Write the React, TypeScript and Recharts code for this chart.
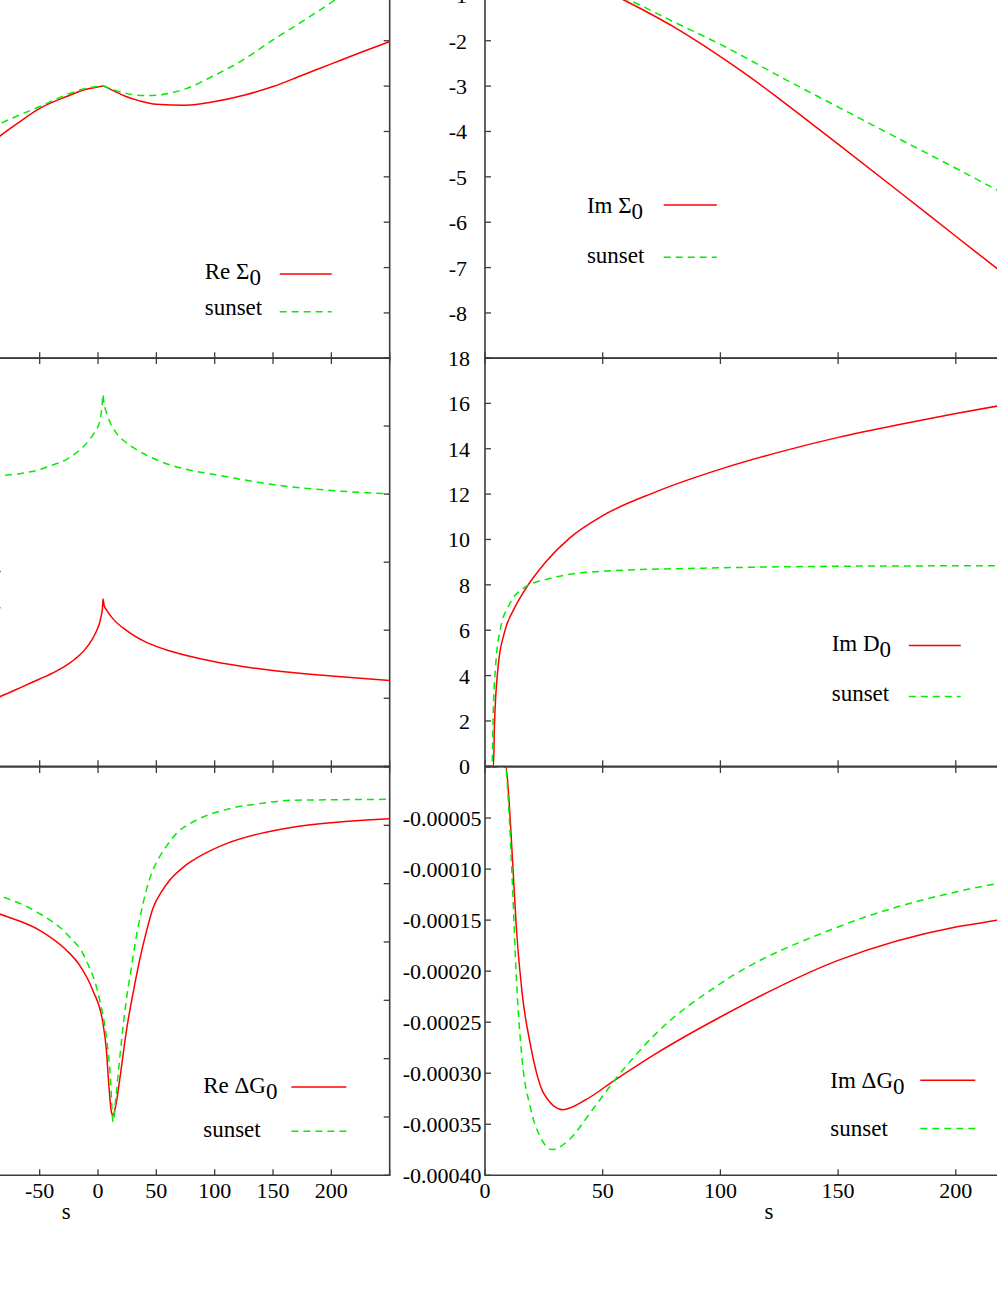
import React from 'react';
import { LineChart, Line, XAxis, YAxis, ReferenceArea, Legend } from 'recharts';

const FONT = '"Liberation Serif", "Times New Roman", Times, serif';
const RED = '#ff0000';
const GREEN = '#00ee00';
const AXIS = '#3c3c3c';
const DASH = '7 5';

// ---------- tick values ----------
const leftXTicks = [-300, -250, -200, -150, -100, -50, 0, 50, 100, 150, 200, 250];
const leftXLabels = [-50, 0, 50, 100, 150, 200];
const rightXTicks = [0, 50, 100, 150, 200, 250];
const rightXLabels = [0, 50, 100, 150, 200];
const sigmaYTicks = [-9, -8, -7, -6, -5, -4, -3, -2, -1, 0];
const sigmaYLabels = [-8, -7, -6, -5, -4, -3, -2, -1];
const reDYTicks = [0, 3, 6, 9, 12, 15, 18];
const imDYTicks = [0, 2, 4, 6, 8, 10, 12, 14, 16, 18];
const reGYTicks = [0, -0.00005, -0.0001, -0.00015, -0.0002, -0.00025, -0.0003, -0.00035];
const imGYTicks = [0, -0.00005, -0.0001, -0.00015, -0.0002, -0.00025, -0.0003, -0.00035, -0.0004];
const imGYLabels = [-0.00005, -0.0001, -0.00015, -0.0002, -0.00025, -0.0003, -0.00035, -0.0004];

// ---------- Re Sigma_0 ----------
const reSigmaS = [-110, -85, -70, -50, -27, -10, 0, 4, 10, 17, 24, 35, 50, 75, 100, 125, 150, 175, 200, 225, 250];
const reSigmaV = [-4.65, -4.12, -3.84, -3.49, -3.23, -3.07, -3.02, -3.0, -3.06, -3.15, -3.23, -3.32, -3.4, -3.42, -3.34, -3.2, -3.01, -2.76, -2.51, -2.26, -2.02];
const reSigmaSunS = [-110, -85, -50, -27, -10, 0, 4, 10, 24, 41, 50, 76, 100, 122, 150, 179, 203, 225, 250];
const reSigmaSunV = [-4.18, -3.84, -3.45, -3.19, -3.05, -3.01, -3.0, -3.05, -3.16, -3.21, -3.2, -3.05, -2.76, -2.46, -1.98, -1.51, -1.1, -0.65, -0.1];

// ---------- Im Sigma_0 ----------
const imSigmaS = [0, 20, 40, 60, 70, 80, 90, 100, 112, 125, 150, 175, 200, 218, 250];
const imSigmaV = [-0.05, -0.3, -0.65, -1.13, -1.4, -1.69, -2.01, -2.35, -2.78, -3.28, -4.28, -5.29, -6.31, -7.04, -8.35];
const imSigmaSunS = [0, 20, 40, 60, 80, 100, 127.5, 150, 175, 200, 217.5, 250];
const imSigmaSunV = [-0.1, -0.42, -0.75, -1.08, -1.58, -2.08, -2.85, -3.46, -4.14, -4.81, -5.29, -6.17];

// ---------- Re D_0 ----------
const reDS = [-110, -85, -65, -50, -40, -33, -25, -20, -12, -5, -1, 1.5, 3, 3.8, 4.3, 5.2, 7.2, 12.9, 24.3, 41.5, 64, 96, 150, 200, 250];
const reDV = [2.6, 3.05, 3.5, 3.85, 4.08, 4.27, 4.53, 4.72, 5.1, 5.6, 6.0, 6.35, 6.7, 6.95, 7.38, 7.1, 6.9, 6.5, 5.99, 5.46, 5.05, 4.65, 4.22, 3.98, 3.78];
const reDSunS = [-110, -85, -65, -50, -38, -27, -20, -12, -7, -3, 1.5, 3.5, 4.3, 4.9, 6, 7.5, 10, 15.6, 24.3, 33, 53, 84, 100, 150, 200, 250];
const reDSunV = [12.55, 12.79, 12.92, 13.08, 13.3, 13.52, 13.76, 14.12, 14.42, 14.72, 15.21, 15.9, 16.4, 16.05, 15.8, 15.55, 15.2, 14.7, 14.26, 13.96, 13.45, 13.0, 12.86, 12.42, 12.16, 12.01];

// ---------- Im D_0 ----------
const imDS = [0, 3.6, 4.0, 5.6, 8.2, 12.4, 17.4, 25.7, 35.8, 50, 72.6, 100, 125, 150, 175, 200, 217.6, 250];
const imDV = [0, 0, 1.76, 4.41, 5.88, 6.95, 7.85, 9.0, 10.05, 11.05, 12.1, 13.1, 13.85, 14.5, 15.05, 15.55, 15.88, 16.45];
const imDSunS = [0, 3.0, 3.4, 4.5, 6.5, 10.7, 16.5, 25.7, 50, 100, 150, 200, 250];
const imDSunV = [0, 0, 2.0, 4.41, 6.03, 7.2, 7.87, 8.23, 8.6, 8.75, 8.82, 8.84, 8.86];

// ---------- Re Delta G_0 ----------
const reGS = [-110, -85, -50, -27, -15.7, -4.5, 4.3, 7.2, 9.4, 11.5, 12.9, 15, 18.6, 24.2, 30, 36, 42, 47.1, 55, 61.4, 72.9, 81.4, 100, 110, 138.6, 164.3, 200, 250];
const reGV = [-11.6e-5, -12.57e-5, -14.0e-5, -15.71e-5, -17.0e-5, -19.14e-5, -22.0e-5, -24.29e-5, -27.43e-5, -29.57e-5, -29.86e-5, -29.14e-5, -26.8e-5, -22.7e-5, -19.4e-5, -16.4e-5, -13.9e-5, -12.1e-5, -10.6e-5, -9.71e-5, -8.6e-5, -8.0e-5, -7.0e-5, -6.57e-5, -5.71e-5, -5.2e-5, -4.77e-5, -4.43e-5];
const reGSunS = [-110, -85, -50, -27, -10.1, 1.5, 7.2, 10.6, 12.9, 15.6, 19.9, 24.2, 28, 32.7, 36, 41.3, 46, 52.7, 60, 67, 78, 89.9, 112.8, 138.6, 164.3, 200, 250];
const reGSunV = [-10.2e-5, -11.0e-5, -12.57e-5, -14.29e-5, -16.57e-5, -20.0e-5, -23.14e-5, -26.57e-5, -30.43e-5, -28.0e-5, -23.71e-5, -20.0e-5, -17.6e-5, -14.6e-5, -12.9e-5, -10.6e-5, -9.1e-5, -7.71e-5, -6.6e-5, -5.71e-5, -4.9e-5, -4.29e-5, -3.57e-5, -3.14e-5, -2.86e-5, -2.81e-5, -2.77e-5];

// ---------- Im Delta G_0 ----------
const imGS = [0, 8.9, 10.0, 11.7, 13.3, 15.8, 19.2, 25.0, 33.0, 42.4, 55, 72.6, 100, 150, 200, 217.6, 250];
const imGV = [0, 0, -2.61e-5, -9.14e-5, -15.67e-5, -22.2e-5, -27.1e-5, -32.0e-5, -33.57e-5, -32.65e-5, -30.7e-5, -28.08e-5, -24.49e-5, -18.94e-5, -15.67e-5, -15.02e-5, -13.9e-5];
const imGSunS = [0, 8.7, 9.9, 11.7, 13.3, 15.8, 19.2, 23.5, 28.5, 35.5, 45.5, 55, 72.6, 100, 150, 200, 217.6, 250];
const imGSunV = [0, 0, -3.26e-5, -11.76e-5, -20.57e-5, -28.73e-5, -33.3e-5, -36.24e-5, -37.48e-5, -36.57e-5, -33.63e-5, -30.7e-5, -26.12e-5, -21.22e-5, -15.67e-5, -12.24e-5, -11.42e-5, -10.1e-5];

// ---------- layout helpers ----------
const YW = 140;
const MT = 30;
const MR = 10;
const XH = 70;

type Series = { name: string; s: number[]; v: number[]; color: string; dash?: string };
type LegendSpec = { textX: number; lineX1: number; lineX2: number; rows: { base: number; lineY: number }[] };
type PanelProps = {
  plotLeft: number;
  plotTop: number;
  plotW: number;
  plotH: number;
  xDomain: [number, number];
  xTicks: number[];
  xLabels: number[];
  sLabelDx?: number;
  yDomain: [number, number];
  yTicks: number[];
  yLabels: number[];
  yFmt: (v: number) => string;
  yGap: number;
  series: Series[];
  legend: LegendSpec;
};

const toPoints = (s: number[], v: number[]) => s.map((x, i) => ({ s: x, v: v[i] }));

function Name({ name }: { name: string }) {
  const [main, sub] = name.split('_');
  return (
    <>
      {main}
      {sub !== undefined && <tspan dy={6}>{sub}</tspan>}
    </>
  );
}

function Panel(p: PanelProps) {
  const chartW = YW + p.plotW + MR;
  const chartH = MT + p.plotH + XH;
  const divLeft = p.plotLeft - YW;
  const divTop = p.plotTop - MT;

  const xTick = (tp: any) => {
    const { x, y, payload } = tp;
    const val = payload.value;
    const show = p.xLabels.includes(val);
    return (
      <g>
        <line x1={x} x2={x} y1={y} y2={y - 6} stroke={AXIS} strokeWidth={1.3} />
        <line x1={x} x2={x} y1={y - p.plotH} y2={y - p.plotH + 6} stroke={AXIS} strokeWidth={1.3} />
        {show && (
          <text x={x} y={y + 22.5} textAnchor="middle" fontFamily={FONT} fontSize={22} fill="#000">
            {String(val)}
          </text>
        )}
      </g>
    );
  };

  const yTick = (tp: any) => {
    const { x, y, payload } = tp;
    const val = payload.value;
    const show = p.yLabels.some((l) => Math.abs(l - val) < 1e-12);
    return (
      <g>
        <line x1={x} x2={x + 6} y1={y} y2={y} stroke={AXIS} strokeWidth={1.3} />
        <line x1={x + p.plotW} x2={x + p.plotW - 6} y1={y} y2={y} stroke={AXIS} strokeWidth={1.3} />
        {show && (
          <text x={x - p.yGap} y={y + 8} textAnchor="end" fontFamily={FONT} fontSize={22} fill="#000">
            {p.yFmt(val)}
          </text>
        )}
      </g>
    );
  };

  const legendContent = () => {
    const lg = p.legend;
    const textVisible = lg.textX >= 0;
    return (
      <svg width={chartW} height={chartH} style={{ position: 'absolute', left: 0, top: 0, overflow: 'visible', pointerEvents: 'none' }}>
        {p.series.map((sr, i) => {
          const row = lg.rows[i];
          return (
            <g key={sr.name}>
              {textVisible && (
                <text x={lg.textX - divLeft} y={row.base - divTop} fontFamily={FONT} fontSize={23} fill="#000">
                  <Name name={sr.name} />
                </text>
              )}
              <line
                x1={lg.lineX1 - divLeft}
                x2={lg.lineX2 - divLeft}
                y1={row.lineY - divTop}
                y2={row.lineY - divTop}
                stroke={sr.color}
                strokeWidth={1.5}
                strokeDasharray={sr.dash}
              />
            </g>
          );
        })}
      </svg>
    );
  };

  const sLabel =
    p.sLabelDx !== undefined
      ? {
          value: 's',
          content: (lp: any) => {
            const vb = lp.viewBox;
            return (
              <text x={vb.x + vb.width / 2 + (p.sLabelDx as number)} y={vb.y + 44} textAnchor="middle" fontFamily={FONT} fontSize={23} fill="#000">
                s
              </text>
            );
          },
        }
      : undefined;

  return (
    <div style={{ position: 'absolute', left: divLeft, top: divTop, width: chartW, height: chartH }}>
      <LineChart width={chartW} height={chartH} margin={{ top: MT, right: MR, bottom: 0, left: 0 }}>
        <XAxis
          type="number"
          dataKey="s"
          domain={p.xDomain}
          ticks={p.xTicks}
          interval={0}
          height={XH}
          tickSize={0}
          tickMargin={0}
          axisLine={false}
          tickLine={false}
          allowDataOverflow
          tick={xTick}
          label={sLabel as any}
        />
        <YAxis
          type="number"
          domain={p.yDomain}
          ticks={p.yTicks}
          interval={0}
          width={YW}
          tickSize={0}
          tickMargin={0}
          axisLine={false}
          tickLine={false}
          allowDataOverflow
          tick={yTick}
        />
        <ReferenceArea
          x1={p.xDomain[0]}
          x2={p.xDomain[1]}
          y1={p.yDomain[0]}
          y2={p.yDomain[1]}
          fill="none"
          fillOpacity={0}
          stroke={AXIS}
          strokeWidth={1.6}
        />
        {p.series.map((sr) => (
          <Line
            key={sr.name}
            name={sr.name}
            data={toPoints(sr.s, sr.v)}
            dataKey="v"
            type="monotone"
            stroke={sr.color}
            strokeWidth={1.5}
            strokeDasharray={sr.dash}
            dot={false}
            activeDot={false}
            isAnimationActive={false}
          />
        ))}
        <Legend
          layout="horizontal"
          verticalAlign="middle"
          align="center"
          wrapperStyle={{ position: 'absolute', left: 0, top: 0, width: chartW, height: chartH, margin: 0 }}
          content={legendContent}
        />
      </LineChart>
    </div>
  );
}

// column / row geometry (page pixels)
const L = { left: -251.7, w: 641.7, dom: [-300, 250] as [number, number] };
const R = { left: 484.7, w: 588.5, dom: [0, 250] as [number, number] };
const ROW_H = 408.3;
const ROWS = [-50, 358.3, 766.7];

const fmtInt = (v: number) => String(v);
const fmtG = (v: number) => (v === 0 ? '0' : v.toFixed(5));

export default function App() {
  return (
    <div style={{ position: 'absolute', left: 0, top: 0, width: 997, height: 1290, overflow: 'hidden', background: '#fff' }}>
      {/* Re Sigma_0 */}
      <Panel
        plotLeft={L.left}
        plotTop={ROWS[0]}
        plotW={L.w}
        plotH={ROW_H}
        xDomain={L.dom}
        xTicks={leftXTicks}
        xLabels={[]}
        yDomain={[-9, 0]}
        yTicks={sigmaYTicks}
        yLabels={[]}
        yFmt={fmtInt}
        yGap={18}
        series={[
          { name: 'Re Σ_0', s: reSigmaS, v: reSigmaV, color: RED },
          { name: 'sunset', s: reSigmaSunS, v: reSigmaSunV, color: GREEN, dash: DASH },
        ]}
        legend={{ textX: 205, lineX1: 280, lineX2: 332, rows: [{ base: 278.5, lineY: 274 }, { base: 315, lineY: 311.7 }] }}
      />
      {/* Im Sigma_0 */}
      <Panel
        plotLeft={R.left}
        plotTop={ROWS[0]}
        plotW={R.w}
        plotH={ROW_H}
        xDomain={R.dom}
        xTicks={rightXTicks}
        xLabels={[]}
        yDomain={[-9, 0]}
        yTicks={sigmaYTicks}
        yLabels={sigmaYLabels}
        yFmt={fmtInt}
        yGap={18}
        series={[
          { name: 'Im Σ_0', s: imSigmaS, v: imSigmaV, color: RED },
          { name: 'sunset', s: imSigmaSunS, v: imSigmaSunV, color: GREEN, dash: DASH },
        ]}
        legend={{ textX: 586.6, lineX1: 663.4, lineX2: 716.5, rows: [{ base: 213.3, lineY: 205 }, { base: 262.7, lineY: 257.3 }] }}
      />
      {/* Re D_0 */}
      <Panel
        plotLeft={L.left}
        plotTop={ROWS[1]}
        plotW={L.w}
        plotH={ROW_H}
        xDomain={L.dom}
        xTicks={leftXTicks}
        xLabels={[]}
        yDomain={[0, 18]}
        yTicks={reDYTicks}
        yLabels={[]}
        yFmt={fmtInt}
        yGap={15}
        series={[
          { name: 'Re D_0', s: reDS, v: reDV, color: RED },
          { name: 'sunset', s: reDSunS, v: reDSunV, color: GREEN, dash: DASH },
        ]}
        legend={{ textX: -135, lineX1: -51, lineX2: 1, rows: [{ base: 578, lineY: 571.7 }, { base: 613, lineY: 608 }] }}
      />
      {/* Im D_0 */}
      <Panel
        plotLeft={R.left}
        plotTop={ROWS[1]}
        plotW={R.w}
        plotH={ROW_H}
        xDomain={R.dom}
        xTicks={rightXTicks}
        xLabels={[]}
        yDomain={[0, 18]}
        yTicks={imDYTicks}
        yLabels={imDYTicks}
        yFmt={fmtInt}
        yGap={15}
        series={[
          { name: 'Im D_0', s: imDS, v: imDV, color: RED },
          { name: 'sunset', s: imDSunS, v: imDSunV, color: GREEN, dash: DASH },
        ]}
        legend={{ textX: 831.4, lineX1: 908.5, lineX2: 960.5, rows: [{ base: 651.7, lineY: 645.7 }, { base: 701.7, lineY: 696.7 }] }}
      />
      {/* Re Delta G_0 */}
      <Panel
        plotLeft={L.left}
        plotTop={ROWS[2]}
        plotW={L.w}
        plotH={ROW_H}
        xDomain={L.dom}
        xTicks={leftXTicks}
        xLabels={leftXLabels}
        sLabelDx={-2.5}
        yDomain={[-0.00035, 0]}
        yTicks={reGYTicks}
        yLabels={[]}
        yFmt={fmtG}
        yGap={4}
        series={[
          { name: 'Re ΔG_0', s: reGS, v: reGV, color: RED },
          { name: 'sunset', s: reGSunS, v: reGSunV, color: GREEN, dash: DASH },
        ]}
        legend={{ textX: 203.5, lineX1: 291.7, lineX2: 346.7, rows: [{ base: 1092.7, lineY: 1086.7 }, { base: 1136.7, lineY: 1131 }] }}
      />
      {/* Im Delta G_0 */}
      <Panel
        plotLeft={R.left}
        plotTop={ROWS[2]}
        plotW={R.w}
        plotH={ROW_H}
        xDomain={R.dom}
        xTicks={rightXTicks}
        xLabels={rightXLabels}
        sLabelDx={-10.3}
        yDomain={[-0.0004, 0]}
        yTicks={imGYTicks}
        yLabels={imGYLabels}
        yFmt={fmtG}
        yGap={3.5}
        series={[
          { name: 'Im ΔG_0', s: imGS, v: imGV, color: RED },
          { name: 'sunset', s: imGSunS, v: imGSunV, color: GREEN, dash: DASH },
        ]}
        legend={{ textX: 830, lineX1: 920, lineX2: 975, rows: [{ base: 1087.3, lineY: 1080 }, { base: 1136, lineY: 1128.3 }] }}
      />
    </div>
  );
}
